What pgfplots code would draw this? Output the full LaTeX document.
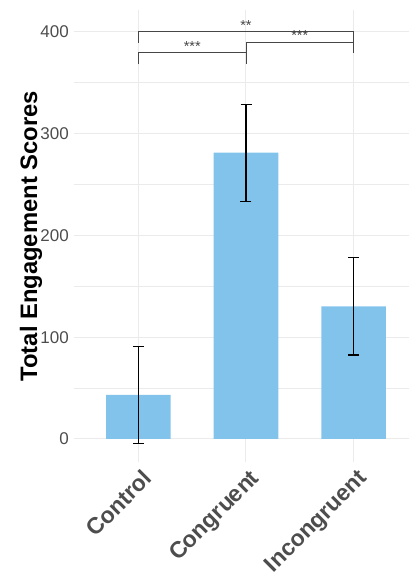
\documentclass[border=0pt]{standalone}
\usepackage{fontspec}
\setmainfont{Liberation Sans}
\usepackage{pgfplots}
\usepackage{pgfplotstable}
\pgfplotsset{compat=1.18}
\definecolor{barblue}{RGB}{130,195,236}
\definecolor{gridgray}{RGB}{235,235,235}
\definecolor{ticktext}{RGB}{77,77,77}
\definecolor{brk}{RGB}{70,70,70}

\pgfplotstableread{
x y err
0 43.3 47.3
1 281.2 47.5
2 130.2 47.7
}\datatable

\begin{document}
\begin{tikzpicture}
\begin{axis}[
  x=107.5pt, y=1.018pt,
  xmin=-0.6, xmax=2.52, ymin=-22.6, ymax=421,
  axis line style={draw=none},
  tick style={draw=none},
  major tick length=0pt, minor tick length=0pt,
  xtick={0,1,2}, xticklabels={Control,Congruent,Incongruent},
  ytick={0,100,200,300,400}, minor ytick={50,150,250,350},
  /pgf/number format/assume math mode=true,
  grid=both,
  major grid style={gridgray, line width=1pt},
  minor grid style={gridgray, line width=0.5pt},
  yticklabel style={font=\fontsize{17}{17}\selectfont, text=ticktext, inner sep=0pt, anchor=east, xshift=-5pt},
  xticklabel style={font=\bfseries\fontsize{23}{23}\selectfont, text=ticktext, inner sep=0pt, xshift=3pt, yshift=-6pt, rotate=45, anchor=north east},
  ylabel={Total Engagement Scores},
  ylabel style={font=\bfseries\fontsize{23.8}{23.8}\selectfont, at={(axis description cs:-0.1103,0.5)}, anchor=base, rotate=0, inner sep=0pt},
  clip=false,
]
\addplot[ybar, bar width=0.6, bar shift=0pt, fill=barblue, draw=none] table[x=x, y=y] {\datatable};
\addplot[draw=none, mark=none, forget plot,
  error bars/.cd, y dir=both, y explicit,
  error bar style={black, line width=1.1pt},
  error mark options={rotate=90, mark size=5.5pt, line width=1.1pt, black}]
  table[x=x, y=y, y error=err] {\datatable};
% significance brackets
\addplot[brk, line width=0.8pt, mark=none] coordinates {(0,389) (0,400) (2,400) (2,389)};
\addplot[brk, line width=0.8pt, mark=none] coordinates {(1,379) (1,390) (2,390) (2,379)};
\addplot[brk, line width=0.8pt, mark=none] coordinates {(0,368) (0,380) (1,380) (1,368)};
\node[anchor=base, inner sep=0pt, text=brk, font=\fontsize{14.5}{14.5}\selectfont] at (axis cs:1,401) {**};
\node[anchor=base, inner sep=0pt, text=brk, font=\fontsize{14.5}{14.5}\selectfont] at (axis cs:1.5,391) {***};
\node[anchor=base, inner sep=0pt, text=brk, font=\fontsize{14.5}{14.5}\selectfont] at (axis cs:0.5,381) {***};
\end{axis}
\pgfresetboundingbox
\path[use as bounding box] ([shift={(-74pt,-117pt)}]current axis.south west) rectangle ++(410pt,579pt);
\end{tikzpicture}
\end{document}
